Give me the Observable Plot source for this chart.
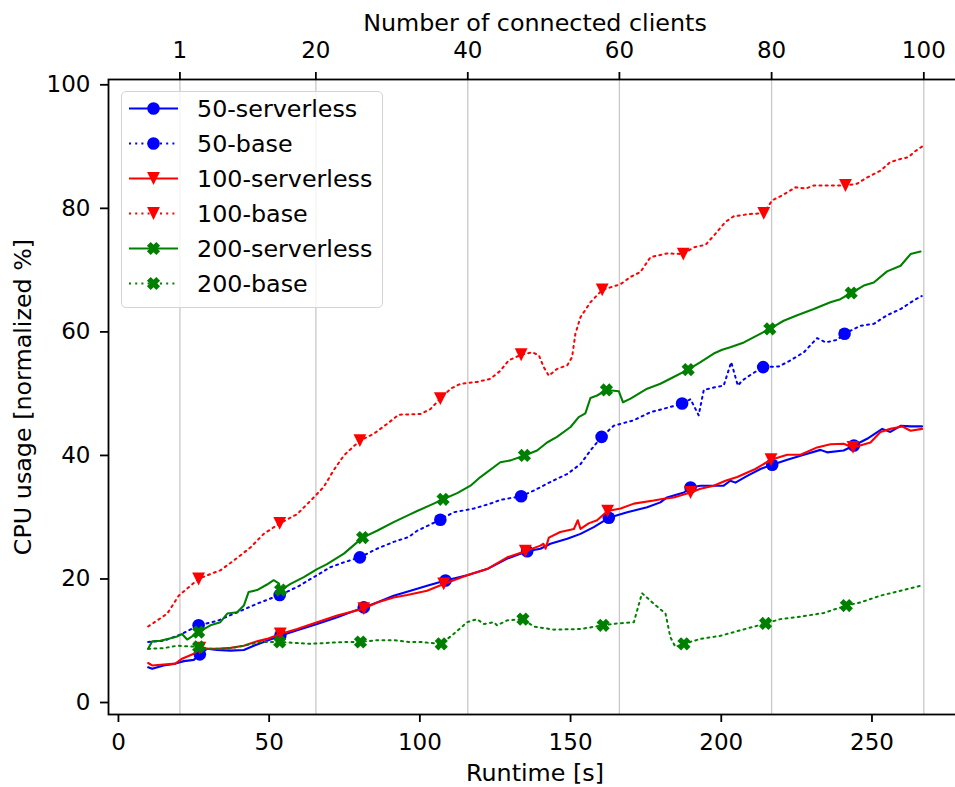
<!DOCTYPE html>
<html>
<head>
<meta charset="utf-8">
<script src="https://cdn.jsdelivr.net/npm/d3@7"></script>
<script src="https://cdn.jsdelivr.net/npm/@observablehq/plot@0.6"></script>
<style>
  html, body { margin: 0; padding: 0; background: #fff; }
  #wrap { position: relative; width: 955px; height: 787px; overflow: hidden; background: #fff; font-family: "DejaVu Sans", sans-serif; }
  #legend { position: absolute; left: 121px; top: 91px; width: 262px; height: 217px; box-sizing: border-box;
            border: 1.5px solid #d3d3d3; border-radius: 5px; background: rgba(255,255,255,0.8); }
  .row { position: absolute; left: 0; height: 35px; width: 255px; }
  .row svg { position: absolute; left: 6.5px; top: 0; }
  .row span { position: absolute; left: 75px; top: 0.5px; line-height: 35px; font-size: 23.8px; color: #000; white-space: nowrap; font-family: "DejaVu Sans", sans-serif; }
</style>
</head>
<body>
<div id="wrap"><div id="chart"></div><div id="legend"></div></div>
<script>
// ---- axis ticks ----
const xTicks = [0, 50, 100, 150, 200, 250];
const yTicks = [0, 20, 40, 60, 80, 100];
const clientTickTimes = [20.4, 65.5, 115.9, 166.2, 216.7, 267.2];
const clientTickLabels = ["1", "20", "40", "60", "80", "100"];
const seriesNames = ["50-serverless", "50-base", "100-serverless", "100-base", "200-serverless", "200-base"];

// ---- series: [runtime s, CPU %] ----
const serverless50 = [[9.85,5.7],[11.2,5.45],[15,6.0],[18.9,6.3],[21.7,6.7],[25,6.9],[27,7.8],[29.4,8.7],[32.7,8.5],[37.2,8.4],[41.6,8.5],[44.9,9.2],[49.3,10.0],[53.7,10.8],[59.3,11.7],[65.9,12.7],[72.6,13.8],[81.4,15.4],[85.8,16.2],[91.3,17.3],[96.9,18.1],[102.4,18.9],[108.5,19.75],[115.7,20.6],[122.3,21.6],[129,23.3],[135.6,24.5],[140,24.9],[143.3,25.7],[148.9,26.5],[153.3,27.3],[157.7,28.4],[162.7,29.9],[168.8,30.8],[175.4,31.6],[179.8,32.4],[182,33.2],[187.6,34.0],[189.8,34.8],[193.1,35.1],[197.5,35.1],[200.8,35.1],[203,35.9],[204.7,35.6],[208.6,36.7],[213,37.8],[216.9,38.5],[221.9,39.3],[227.4,40.1],[232.9,40.9],[235.1,40.5],[240.6,40.8],[244,41.6],[248.4,42.7],[253.4,44.3],[256.1,43.8],[259.5,44.8],[262.8,44.7],[266.6,44.7]];
const base50 = [[9.85,9.8],[15,10.0],[20.6,11.0],[26.6,12.5],[32.7,13.2],[39.4,14.6],[46,16.0],[53.5,17.4],[59.3,18.7],[64.8,20.3],[70.3,21.9],[74.8,22.7],[80.1,23.5],[85.8,24.9],[91.3,26.0],[96.3,26.8],[99.1,27.8],[106.8,29.6],[111.2,30.8],[117.9,31.4],[123.4,32.2],[126.7,32.8],[133.6,33.4],[137.8,34.3],[143.3,35.7],[148.9,37.0],[153.3,38.6],[156.6,40.8],[160.3,43.0],[164.3,44.8],[171,45.7],[176.5,47.0],[182,47.7],[187,48.4],[189.8,49.1],[192.5,46.5],[194.2,50.6],[197.5,51.0],[200.8,51.3],[203.3,55.1],[205.5,51.3],[206.9,52.1],[210.2,53.2],[213.9,54.3],[219.1,54.4],[223,55.4],[227.4,56.7],[231.8,59.0],[234.6,58.3],[238.4,58.7],[240.9,59.7],[246.2,61.0],[250.6,61.3],[255,62.7],[259.5,63.7],[263.9,65.1],[266.5,65.8]];
const serverless100 = [[9.85,6.4],[11.2,6.0],[15,6.15],[18.9,6.3],[21.1,7.1],[25,7.9],[27,8.7],[32.7,8.7],[37.2,8.85],[41.6,9.2],[46,9.9],[49.3,10.3],[53.7,11.1],[59.3,11.9],[65.9,13.0],[72.6,14.1],[81.4,15.2],[85.8,16.2],[91.3,17.0],[95.8,17.4],[102.4,18.1],[107.9,19.2],[115.7,20.6],[122.3,21.6],[129,23.5],[135,24.5],[140,25.4],[141,25.7],[141.7,24.9],[142.8,26.7],[146.6,27.6],[151.1,28.1],[152.4,29.5],[153.3,28.1],[156,29.0],[158.8,29.5],[162.3,31.0],[166.6,31.4],[171,32.2],[177.6,32.7],[180.9,33.0],[184.2,33.2],[189.8,34.0],[193.1,34.6],[197.5,35.1],[201.4,35.9],[205.3,36.5],[211.3,37.8],[216.5,39.3],[221.9,40.1],[226.3,40.1],[231.8,41.3],[236.2,41.8],[240.6,41.9],[243.7,41.3],[249.5,42.1],[252.8,43.8],[256.1,44.3],[260,44.7],[262.8,44.0],[266.6,44.3]];
const base100 = [[9.85,12.3],[16.2,14.4],[20,17.3],[26.6,20.0],[30.5,20.8],[33.8,21.4],[38.3,23.0],[43.8,25.1],[48.2,27.3],[53.5,29.0],[59.3,30.5],[64.8,33.2],[68.1,34.9],[71.4,37.6],[74.8,40.0],[80.1,42.4],[84.7,43.5],[89.1,45.1],[93,46.6],[100.2,46.7],[103.5,47.5],[106.8,49.2],[110.2,50.8],[113.5,51.6],[119,51.9],[123.4,52.4],[126.7,53.7],[129.5,55.4],[133.6,56.3],[137.3,56.7],[139.5,56.2],[141.1,54.3],[142.8,52.9],[145.5,54.0],[148.9,54.6],[150.5,55.9],[151.6,59.7],[153.3,62.4],[156.6,64.8],[160.5,66.8],[166.5,67.7],[169.9,68.9],[173.2,69.7],[176.5,72.1],[182,72.7],[187.4,72.6],[190.9,73.7],[194.8,74.1],[198.1,75.9],[201.4,77.8],[204.1,78.7],[209.7,79.1],[214.1,79.2],[216.9,81.3],[220.2,82.1],[224.6,83.4],[228,83.2],[230.7,83.7],[237.3,83.7],[241.2,83.7],[245.1,84.0],[248.4,85.0],[252.8,86.1],[256.1,87.5],[259.5,88.0],[262.2,88.3],[263.9,89.1],[267.2,90.2]];
const serverless200 = [[9.85,8.7],[11.2,9.9],[13.9,10.0],[17.3,10.4],[19.5,10.7],[21.1,11.1],[22.8,10.2],[26.6,11.4],[30.5,12.5],[33.8,13.0],[36.1,14.4],[39.4,14.6],[41.6,15.7],[43.2,17.9],[46,18.2],[49.3,19.1],[51.5,19.8],[53.2,19.3],[53.8,18.2],[57.1,19.2],[61.5,20.3],[65.9,21.6],[69.2,22.4],[74.8,24.1],[81,26.7],[85.8,27.8],[91.3,29.2],[96.9,30.5],[99.1,31.0],[104.6,32.2],[107.7,32.9],[112.4,33.9],[116.8,35.1],[120.1,36.5],[126.7,38.9],[130.1,39.2],[134.7,40.0],[138.9,40.8],[142.2,42.1],[145.5,43.0],[150,44.6],[152.7,46.2],[154.9,46.8],[156.6,49.3],[158.8,49.7],[161.9,50.6],[166,50.4],[167.4,48.6],[169.9,49.2],[175.4,50.8],[179.8,51.6],[184.2,52.7],[189,53.9],[193.1,55.1],[197.5,56.5],[200.3,57.1],[203,57.5],[207.5,58.3],[210.2,59.0],[216.1,60.5],[220.7,61.8],[225.2,62.7],[230.7,63.7],[236.2,64.8],[239.5,65.3],[243.1,66.3],[247.3,67.5],[250.6,68.0],[255,69.8],[259.5,70.7],[262.8,72.6],[266.1,73.0]];
const base200 = [[9.85,8.7],[15,8.8],[19.5,9.2],[26.6,9.0],[30.5,8.7],[36,8.7],[41.6,9.2],[47.1,9.8],[53.5,9.8],[63.7,9.5],[74.8,9.8],[80.3,9.8],[85.8,10.1],[91.3,10.1],[96.3,9.8],[100.2,9.8],[107.1,9.5],[111.2,11.1],[115.7,13.0],[119,13.5],[121.2,12.7],[124.5,13.0],[125.6,12.5],[129,13.3],[134.2,13.5],[137.8,12.3],[144.4,11.8],[153.3,11.9],[160.8,12.5],[165.5,12.8],[171,13.0],[173.7,17.7],[177.6,16.0],[181.5,14.4],[183.1,10.6],[184.8,9.0],[187.6,9.5],[193.1,10.3],[199.7,10.8],[206.4,11.7],[214.7,12.8],[219.6,13.5],[226.3,13.9],[234,14.5],[241.5,15.7],[246.2,16.2],[252.8,17.3],[259.5,18.1],[266.1,18.9]];

// ---- marker points (every ~27 s) ----
const serverless50Marks = [[27,7.8],[53.7,10.8],[81.4,15.4],[108.5,19.75],[135.6,24.5],[162.7,29.9],[189.8,34.8],[216.9,38.5],[244,41.6]];
const base50Marks = [[26.6,12.5],[53.5,17.4],[80.1,23.5],[106.8,29.6],[133.6,33.4],[160.3,43.0],[187,48.4],[213.9,54.3],[240.9,59.7]];
const serverless100Marks = [[27,8.8],[53.7,11.1],[81.4,15.2],[107.9,19.2],[135,24.5],[162.3,31.0],[189.8,34.0],[216.5,39.3],[243.7,41.3]];
const base100Marks = [[26.6,20.0],[53.5,29.0],[80.1,42.4],[106.8,49.2],[133.6,56.3],[160.5,66.8],[187.4,72.6],[214.1,79.2],[241.2,83.7]];
const serverless200Marks = [[26.6,11.4],[53.8,18.2],[81,26.7],[107.7,32.9],[134.7,40.0],[161.9,50.6],[189,53.9],[216.1,60.5],[243.1,66.3]];
const base200Marks = [[26.6,9.0],[53.5,9.8],[80.3,9.8],[107.1,9.5],[134.2,13.5],[160.8,12.5],[187.6,9.5],[214.7,12.8],[241.5,15.7]];

// ---- marker shapes (matplotlib-like) ----
const triDown = { draw(ctx, size) { const h = Math.sqrt(size / Math.PI); ctx.moveTo(0, h); ctx.lineTo(-h, -h); ctx.lineTo(h, -h); ctx.closePath(); } };
const filledX = { draw(ctx, size) {
  const h = Math.sqrt(size / Math.PI);
  const L = h * Math.SQRT2 / 1.4, a = 0.4 * L;
  const pts = [[a,-L],[a,-a],[L,-a],[L,a],[a,a],[a,L],[-a,L],[-a,a],[-L,a],[-L,-a],[-a,-a],[-a,-L]];
  pts.forEach(([x, y], i) => { const rx = (x - y) / Math.SQRT2, ry = (x + y) / Math.SQRT2; if (i) ctx.lineTo(rx, ry); else ctx.moveTo(rx, ry); });
  ctx.closePath();
} };
const circleSym = { draw(ctx, size) { const r = Math.sqrt(size / Math.PI); ctx.moveTo(r, 0); ctx.arc(0, 0, r, 0, 2 * Math.PI); } };

const DOT = "2,4.2";
const series = [
  { name: seriesNames[0], line: serverless50,  marks: serverless50Marks,  color: "#0000ff", dash: null, symbol: circleSym, r: 6.3 },
  { name: seriesNames[1], line: base50,        marks: base50Marks,        color: "#0000ff", dash: DOT,  symbol: circleSym, r: 6.3 },
  { name: seriesNames[2], line: serverless100, marks: serverless100Marks, color: "#ff0000", dash: null, symbol: triDown,   r: 6.4 },
  { name: seriesNames[3], line: base100,       marks: base100Marks,       color: "#ff0000", dash: DOT,  symbol: triDown,   r: 6.4 },
  { name: seriesNames[4], line: serverless200, marks: serverless200Marks, color: "#008000", dash: null, symbol: filledX,   r: 6.6 },
  { name: seriesNames[5], line: base200,       marks: base200Marks,       color: "#008000", dash: DOT,  symbol: filledX,   r: 6.6 }
];

const clientLabelOf = new Map(clientTickTimes.map((t, i) => [t, clientTickLabels[i]]));

const marks = [
  Plot.ruleX(clientTickTimes, { stroke: "#c8c8c8", strokeWidth: 1.3 })
];
for (const s of series) {
  marks.push(Plot.line(s.line, { x: d => d[0], y: d => d[1], stroke: s.color, strokeWidth: s.dash ? 2 : 2.1,
    strokeDasharray: s.dash || undefined, strokeLinejoin: "round" }));
  marks.push(Plot.dot(s.marks, { x: d => d[0], y: d => d[1], symbol: s.symbol, r: s.r, fill: s.color, stroke: "none" }));
}
marks.push(
  Plot.frame({ stroke: "#000", strokeWidth: 1.8 }),
  Plot.axisX(xTicks, { anchor: "bottom", tickSize: 8, tickPadding: 11, label: null, strokeWidth: 1.8 }),
  Plot.axisX(clientTickTimes, { anchor: "top", tickSize: 8, tickPadding: 14, label: null, strokeWidth: 1.8, tickFormat: d => clientLabelOf.get(d) }),
  Plot.axisY(yTicks, { anchor: "left", tickSize: 8, tickPadding: 10, label: null, strokeWidth: 1.8 }),
  Plot.text(["Number of connected clients"], { frameAnchor: "top", lineAnchor: "bottom", dy: -49, fill: "#000", fontSize: 23.8 }),
  Plot.text(["Runtime [s]"], { frameAnchor: "bottom", lineAnchor: "bottom", dy: 66, fill: "#000", fontSize: 23.8 }),
  Plot.text(["CPU usage [normalized %]"], { frameAnchor: "left", lineAnchor: "bottom", textAnchor: "middle", rotate: -90, dx: -78, fill: "#000", fontSize: 23.8 })
);

const chart = Plot.plot({
  width: 961,
  height: 787,
  marginLeft: 108,
  marginRight: 0,
  marginTop: 79,
  marginBottom: 73,
  x: { domain: [-3.3, 279.7] },
  y: { domain: [-1.94, 100.86] },
  style: { fontFamily: "DejaVu Sans, sans-serif", fontSize: "23px", color: "#000", background: "#fff", maxWidth: "none" },
  marks
});
document.getElementById("chart").appendChild(chart);

// ---- legend ----
const legend = document.getElementById("legend");
series.forEach((s, i) => {
  const row = document.createElement("div");
  row.className = "row";
  row.style.top = (16.8 + 35 * i - 17.5) + "px";
  const path = d3.symbol(s.symbol, Math.PI * s.r * s.r)();
  row.innerHTML =
    `<svg width="50" height="35" viewBox="0 0 50 35">` +
    `<line x1="0" x2="49" y1="17.5" y2="17.5" stroke="${s.color}" stroke-width="${s.dash ? 2 : 2.1}"${s.dash ? ` stroke-dasharray="${s.dash}"` : ""}/>` +
    `<path d="${path}" transform="translate(24.5,17.5)" fill="${s.color}"/></svg>` +
    `<span>${s.name}</span>`;
  legend.appendChild(row);
});
</script>
</body>
</html>
